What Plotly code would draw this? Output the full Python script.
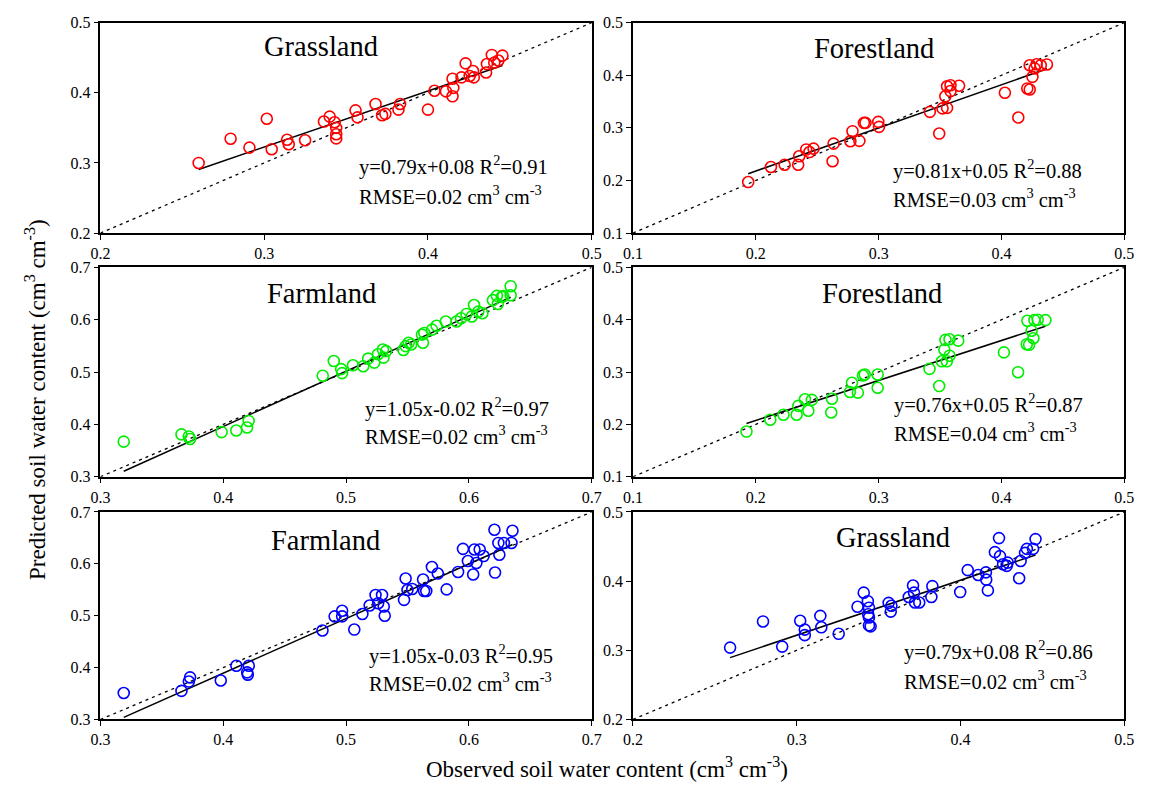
import plotly.graph_objects as go

# ---------------- data ----------------
titles = ["Grassland", "Forestland", "Farmland", "Forestland", "Farmland", "Grassland"]
colors = ["#FF0000", "#FF0000", "#00EE00", "#00EE00", "#0000FF", "#0000FF"]
axis_ranges = [[0.2, 0.5], [0.1, 0.5], [0.3, 0.7], [0.1, 0.5], [0.3, 0.7], [0.2, 0.5]]
equations = ["y=0.79x+0.08 R<sup>2</sup>=0.91", "y=0.81x+0.05 R<sup>2</sup>=0.88",
             "y=1.05x-0.02 R<sup>2</sup>=0.97", "y=0.76x+0.05 R<sup>2</sup>=0.87",
             "y=1.05x-0.03 R<sup>2</sup>=0.95", "y=0.79x+0.08 R<sup>2</sup>=0.86"]
rmse_texts = ["RMSE=0.02 cm<sup>3</sup> cm<sup>-3</sup>", "RMSE=0.03 cm<sup>3</sup> cm<sup>-3</sup>",
              "RMSE=0.02 cm<sup>3</sup> cm<sup>-3</sup>", "RMSE=0.04 cm<sup>3</sup> cm<sup>-3</sup>",
              "RMSE=0.02 cm<sup>3</sup> cm<sup>-3</sup>", "RMSE=0.02 cm<sup>3</sup> cm<sup>-3</sup>"]
fit_slopes = [0.799, 0.82, 1.055, 0.763, 1.053, 0.796]
fit_intercepts = [0.083, 0.054, -0.026, 0.055, -0.032, 0.083]

grass1_obs = [0.260, 0.2795, 0.291, 0.3016, 0.3046, 0.314, 0.315, 0.325, 0.3365, 0.340, 0.343, 0.344,
              0.344, 0.344, 0.3558, 0.357, 0.368, 0.372, 0.374, 0.382, 0.383, 0.400, 0.404, 0.411,
              0.415, 0.4155, 0.415, 0.4205, 0.423, 0.4255, 0.4275, 0.428, 0.4355, 0.436, 0.439,
              0.4405, 0.443, 0.4455]
grass1_pred = [0.300, 0.3346, 0.3219, 0.363, 0.3195, 0.333, 0.3266, 0.3323, 0.359, 0.366, 0.358, 0.350,
               0.341, 0.335, 0.375, 0.365, 0.384, 0.368, 0.370, 0.376, 0.384, 0.376, 0.403, 0.402,
               0.420, 0.407, 0.395, 0.422, 0.442, 0.424, 0.431, 0.422, 0.429, 0.441, 0.454,
               0.443, 0.446, 0.453]

forest1_obs = [0.1938, 0.2123, 0.2235, 0.2345, 0.2353, 0.241, 0.2437, 0.247, 0.2625, 0.2633, 0.277,
               0.2787, 0.2843, 0.288, 0.2893, 0.2997, 0.3003, 0.3417, 0.3493, 0.352, 0.3543, 0.3557,
               0.3557, 0.3585, 0.3585, 0.3655, 0.4028, 0.4137, 0.421, 0.423, 0.423, 0.4252, 0.427,
               0.4286, 0.432, 0.437]
forest1_pred = [0.197, 0.2257, 0.230, 0.230, 0.246, 0.259, 0.254, 0.2606, 0.2365, 0.270, 0.2746,
                0.2937, 0.2752, 0.3095, 0.3095, 0.3114, 0.302, 0.3305, 0.2892, 0.337, 0.360, 0.338,
                0.379, 0.381, 0.370, 0.380, 0.3667, 0.3197, 0.375, 0.373, 0.419, 0.397, 0.413,
                0.421, 0.419, 0.4206]

farm1_obs = [0.319, 0.366, 0.372, 0.373, 0.3987, 0.4106, 0.4194, 0.4207, 0.481, 0.490, 0.496, 0.4968,
             0.5056, 0.514, 0.518, 0.523, 0.526, 0.530, 0.5305, 0.5326, 0.5467, 0.5485, 0.551, 0.553,
             0.5618, 0.5626, 0.5637, 0.570, 0.5737, 0.5812, 0.590, 0.5936, 0.598, 0.6024, 0.6042,
             0.6077, 0.611, 0.6196, 0.6228, 0.6236, 0.6268, 0.628, 0.634, 0.634]
farm1_pred = [0.367, 0.381, 0.377, 0.372, 0.3853, 0.3884, 0.394, 0.4066, 0.493, 0.521, 0.5056, 0.498,
              0.513, 0.511, 0.5257, 0.518, 0.534, 0.543, 0.5276, 0.540, 0.542, 0.5495, 0.556, 0.5527,
              0.5715, 0.556, 0.5746, 0.581, 0.5884, 0.5966, 0.5966, 0.6028, 0.611, 0.606, 0.628,
              0.6154, 0.6122, 0.6373, 0.6455, 0.630, 0.6436, 0.645, 0.6467, 0.664]

forest2_obs = [0.1924, 0.2118, 0.2225, 0.2332, 0.2346, 0.240, 0.2428, 0.2456, 0.262, 0.2614, 0.2766,
               0.2783, 0.2831, 0.2873, 0.2887, 0.2992, 0.2992, 0.3414, 0.3493, 0.3515, 0.3535, 0.3555,
               0.3544, 0.3577, 0.3577, 0.3648, 0.402, 0.4135, 0.4206, 0.4225, 0.4211, 0.4245, 0.4268,
               0.426, 0.4295, 0.4358]
forest2_pred = [0.1863, 0.209, 0.2184, 0.2184, 0.2354, 0.248, 0.226, 0.2468, 0.249, 0.2228, 0.262,
                0.2795, 0.2606, 0.2934, 0.2953, 0.2953, 0.270, 0.306, 0.2732, 0.3205, 0.3425, 0.3205,
                0.3614, 0.3627, 0.3312, 0.360, 0.3375, 0.2997, 0.3532, 0.352, 0.398, 0.379, 0.3992,
                0.3646, 0.4000, 0.3992]

farm2_obs = [0.319, 0.366, 0.372, 0.373, 0.398, 0.4107, 0.4195, 0.420, 0.4208, 0.4808, 0.4907, 0.4968,
             0.4968, 0.5067, 0.5133, 0.5192, 0.524, 0.5261, 0.5293, 0.5307, 0.5315, 0.5472, 0.5485,
             0.550, 0.5539, 0.5627, 0.5635, 0.5653, 0.5699, 0.5747, 0.5819, 0.5912, 0.5952, 0.5992,
             0.6035, 0.6045, 0.6061, 0.6088, 0.612, 0.6213, 0.6208, 0.624, 0.6248, 0.6285, 0.6355,
             0.6347]
farm2_pred = [0.351, 0.355, 0.373, 0.381, 0.375, 0.4035, 0.3908, 0.3863, 0.4035, 0.4714, 0.4987, 0.5095,
              0.4987, 0.4733, 0.5032, 0.5197, 0.540, 0.5241, 0.540, 0.5178, 0.500, 0.5305, 0.5717,
              0.5495, 0.5514, 0.5698, 0.5476, 0.5476, 0.594, 0.5813, 0.5508, 0.5844, 0.6289, 0.6054,
              0.5794, 0.6276, 0.6016, 0.6276, 0.615, 0.5832, 0.6657, 0.6403, 0.6175, 0.6403, 0.6638,
              0.6403]

grass2_obs = [0.2593, 0.2794, 0.2911, 0.3021, 0.3049, 0.3049, 0.3144, 0.315, 0.3256, 0.3371, 0.3409,
              0.3434, 0.3441, 0.3436, 0.3441, 0.3441, 0.3451, 0.3561, 0.3574, 0.3578, 0.3684, 0.371,
              0.3716, 0.3722, 0.3748, 0.3822, 0.3828, 0.3998, 0.4044, 0.4108, 0.4155, 0.4157, 0.4167,
              0.421, 0.4235, 0.4241, 0.426, 0.4288, 0.4282, 0.4358, 0.4367, 0.4394, 0.4405, 0.4443,
              0.4458]
grass2_pred = [0.3039, 0.3417, 0.3053, 0.3427, 0.3299, 0.3219, 0.3497, 0.3332, 0.3238, 0.363, 0.3833,
               0.371, 0.3616, 0.3521, 0.3474, 0.336, 0.3346, 0.3686, 0.3559, 0.3644, 0.3771, 0.3937,
               0.3833, 0.3691, 0.3691, 0.3771, 0.3927, 0.3842, 0.4159, 0.4088, 0.4126, 0.4022, 0.3866,
               0.4419, 0.4622, 0.4362, 0.4244, 0.4267, 0.422, 0.4041, 0.4291, 0.4409, 0.4466, 0.4466,
               0.4608]

observed = [grass1_obs, forest1_obs, farm1_obs, forest2_obs, farm2_obs, grass2_obs]
predicted = [grass1_pred, forest1_pred, farm1_pred, forest2_pred, farm2_pred, grass2_pred]

x_title = "Observed soil water content (cm<sup>3</sup> cm<sup>-3</sup>)"
y_title = "Predicted soil water content (cm<sup>3</sup> cm<sup>-3</sup>)"

# ---------------- layout geometry ----------------
W, H = 1151, 794
col_px = [(92, 592), (634, 1134)]
row_px = [(15, 230), (265, 479), (515, 727)]
title_pos = [(0.45, 0.885), (0.49, 0.877), (0.45, 0.877), (0.507, 0.874), (0.458, 0.862), (0.53, 0.878)]
eq_pos = [(0.522, 0.32, 0.18), (0.525, 0.30, 0.165), (0.535, 0.33, 0.197),
          (0.528, 0.35, 0.216), (0.542, 0.315, 0.18), (0.547, 0.33, 0.192)]

FONT = "Liberation Serif, Times New Roman, serif"

fig = go.Figure()
layout = dict(
    width=W, height=H, margin=dict(l=0, r=0, t=0, b=0),
    plot_bgcolor="white", paper_bgcolor="white", showlegend=False,
    font=dict(family=FONT, size=16, color="black"),
)
annotations = []

for i in range(6):
    r, c = divmod(i, 2)
    n = i + 1
    xa = "x" if n == 1 else f"x{n}"
    ya = "y" if n == 1 else f"y{n}"
    xkey = "xaxis" if n == 1 else f"xaxis{n}"
    ykey = "yaxis" if n == 1 else f"yaxis{n}"
    x0, x1 = col_px[c]
    y0, y1 = row_px[r]
    rng = axis_ranges[i]
    axis_common = dict(range=rng, dtick=0.1, tick0=0.1, tickformat=".1f", showgrid=False,
                       zeroline=False, showline=True, linecolor="black", linewidth=1.5,
                       mirror=True, ticks="outside", ticklen=5, tickwidth=1.2, tickcolor="black",
                       tickfont=dict(family=FONT, size=16, color="black"))
    layout[xkey] = dict(axis_common, domain=[x0 / W, x1 / W], anchor=ya)
    layout[ykey] = dict(axis_common, domain=[1 - y1 / H, 1 - y0 / H], anchor=xa)

    # 1:1 line
    fig.add_trace(go.Scatter(x=rng, y=rng, mode="lines", xaxis=xa, yaxis=ya,
                             line=dict(color="black", width=1.3, dash="3px,4px"),
                             hoverinfo="skip"))
    # regression line
    xs = [min(observed[i]), max(observed[i])]
    ys = [fit_slopes[i] * v + fit_intercepts[i] for v in xs]
    fig.add_trace(go.Scatter(x=xs, y=ys, mode="lines", xaxis=xa, yaxis=ya,
                             line=dict(color="black", width=1.5)))
    # points
    fig.add_trace(go.Scatter(x=observed[i], y=predicted[i], mode="markers", xaxis=xa, yaxis=ya,
                             marker=dict(symbol="circle-open", size=11, color=colors[i],
                                         line=dict(width=1.6, color=colors[i]))))

    dref_x = f"{xa} domain"
    dref_y = f"{ya} domain"
    tx, ty = title_pos[i]
    annotations.append(dict(text=titles[i], x=tx, y=ty, xref=dref_x, yref=dref_y,
                            xanchor="center", yanchor="middle", showarrow=False,
                            font=dict(family=FONT, size=28.5, color="black")))
    ex, ey1, ey2 = eq_pos[i]
    annotations.append(dict(text=equations[i], x=ex, y=ey1, xref=dref_x, yref=dref_y,
                            xanchor="left", yanchor="middle", showarrow=False,
                            font=dict(family=FONT, size=20.5, color="black")))
    annotations.append(dict(text=rmse_texts[i], x=ex, y=ey2, xref=dref_x, yref=dref_y,
                            xanchor="left", yanchor="middle", showarrow=False,
                            font=dict(family=FONT, size=20.5, color="black")))

annotations.append(dict(text=x_title, x=608 / W, y=1 - 776 / H, xref="paper", yref="paper",
                        xanchor="center", yanchor="middle", showarrow=False,
                        font=dict(family=FONT, size=23, color="black")))
annotations.append(dict(text=y_title, x=26 / W, y=1 - 400 / H, xref="paper", yref="paper",
                        xanchor="center", yanchor="middle", showarrow=False, textangle=-90,
                        font=dict(family=FONT, size=23, color="black")))
layout["annotations"] = annotations
fig.update_layout(**layout)
fig.write_html("out.html", config={"displayModeBar": False},
               post_script="document.body.style.margin='0px';")
